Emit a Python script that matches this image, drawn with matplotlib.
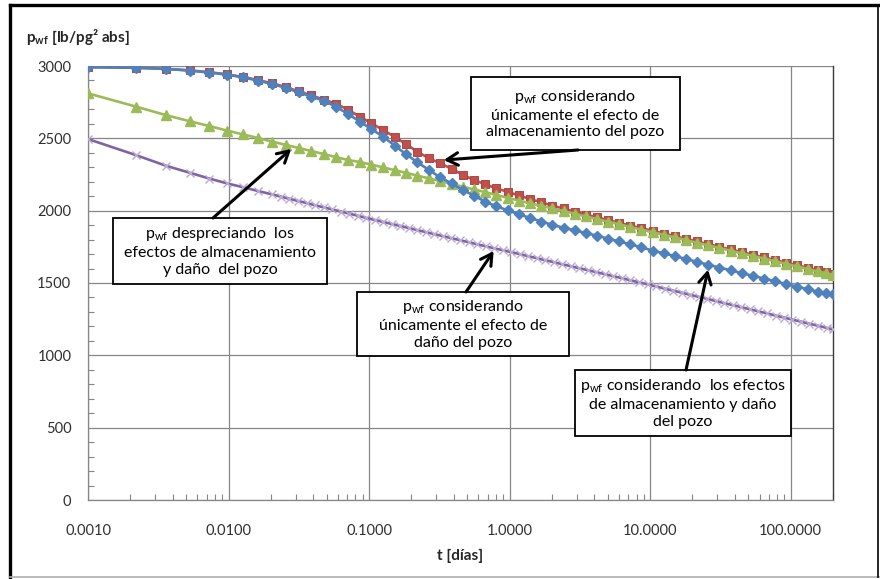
import matplotlib

matplotlib.use("Agg")

import matplotlib.pyplot as plt
from matplotlib.lines import Line2D
from matplotlib.patches import Rectangle
from matplotlib.ticker import FuncFormatter, LogLocator, MultipleLocator, NullFormatter

plt.rcParams["font.family"] = ["Lato", "DejaVu Sans"]
plt.rcParams["mathtext.fontset"] = "custom"
plt.rcParams["mathtext.rm"] = "Lato"
plt.rcParams["mathtext.it"] = "Lato:italic"
plt.rcParams["mathtext.bf"] = "Lato:bold"

# time steps shared by three of the series [days]
t_days = [0.001, 0.00218, 0.0036, 0.0053, 0.0073, 0.0098, 0.0127, 0.0162, 0.0205, 0.0255,
          0.0316, 0.0389, 0.0477, 0.0582, 0.0709, 0.0860, 0.104, 0.126, 0.152, 0.184,
          0.221, 0.267, 0.321, 0.386, 0.464, 0.558, 0.670, 0.806, 0.968, 1.16,
          1.40, 1.68, 2.01, 2.42, 2.90, 3.48, 4.18, 5.01, 6.02, 7.22,
          8.67, 10.4, 12.5, 15.0, 18.0, 21.6, 25.9, 31.1, 37.3, 44.7,
          53.7, 64.4, 77.3, 92.8, 111, 133, 157, 178, 200]

# storage + skin (blue diamonds)
p_storage_skin = [2992, 2988, 2980, 2968, 2955, 2940, 2921, 2899, 2875, 2849,
                  2818, 2788, 2760, 2718, 2668, 2615, 2564, 2511, 2450, 2389,
                  2334, 2281, 2230, 2189, 2143, 2104, 2062, 2030, 2003, 1975,
                  1950, 1925, 1902, 1882, 1864, 1846, 1827, 1807, 1787, 1767,
                  1747, 1724, 1705, 1686, 1666, 1646, 1626, 1607, 1588, 1569,
                  1550, 1531, 1512, 1493, 1475, 1456, 1440, 1430, 1422]

# storage only (red squares)
p_storage = [2992, 2988, 2980, 2970, 2957, 2942, 2924, 2903, 2880, 2855,
             2824, 2797, 2767, 2740, 2697, 2650, 2604, 2557, 2511, 2459,
             2407, 2362, 2327, 2290, 2248, 2212, 2182, 2154, 2130, 2106,
             2080, 2058, 2035, 2015, 1993, 1973, 1954, 1935, 1916, 1897,
             1879, 1861, 1842, 1824, 1805, 1787, 1769, 1750, 1732, 1714,
             1695, 1677, 1659, 1640, 1623, 1604, 1588, 1576, 1564]

# no storage, no skin (green triangles)
p_ideal = [2811, 2720, 2660, 2618, 2585, 2553, 2527, 2502, 2477, 2455,
           2433, 2412, 2391, 2370, 2350, 2336, 2318, 2299, 2280, 2261,
           2242, 2223, 2204, 2185, 2166, 2147, 2128, 2108, 2089, 2070,
           2051, 2033, 2015, 1997, 1979, 1960, 1942, 1924, 1906, 1887,
           1869, 1851, 1833, 1815, 1796, 1778, 1760, 1742, 1723, 1705,
           1687, 1669, 1651, 1632, 1615, 1596, 1580, 1568, 1556]

# skin only (purple crosses), denser time steps
t_skin = [0.001, 0.00218, 0.0036, 0.0053, 0.0073, 0.0098, 0.0127, 0.0162, 0.0205,
          0.0236, 0.0271, 0.0312, 0.0359, 0.0412, 0.0474, 0.0545, 0.0627, 0.0721, 0.0829,
          0.0954, 0.110, 0.126, 0.145, 0.167, 0.192, 0.220, 0.253, 0.291, 0.335,
          0.385, 0.443, 0.510, 0.586, 0.674, 0.775, 0.891, 1.02, 1.18, 1.36,
          1.56, 1.79, 2.06, 2.37, 2.72, 3.13, 3.60, 4.14, 4.76, 5.48,
          6.30, 7.24, 8.33, 9.58, 11.0, 12.7, 14.6, 16.8, 19.3, 22.2,
          25.5, 29.3, 33.7, 38.8, 44.6, 51.3, 59.0, 67.8, 78.0, 89.7,
          103, 119, 136, 157, 180, 200]
p_skin = [2495, 2385, 2310, 2262, 2222, 2188, 2162, 2136, 2112,
          2097, 2082, 2067, 2053, 2038, 2023, 2009, 1994, 1980, 1965,
          1950, 1936, 1922, 1908, 1894, 1880, 1866, 1852, 1838, 1824,
          1810, 1796, 1782, 1768, 1754, 1740, 1727, 1714, 1700, 1685,
          1672, 1658, 1644, 1630, 1616, 1602, 1589, 1575, 1561, 1547,
          1533, 1519, 1505, 1491, 1476, 1461, 1447, 1433, 1418, 1404,
          1390, 1376, 1361, 1347, 1333, 1318, 1304, 1290, 1275, 1261,
          1247, 1232, 1218, 1204, 1190, 1179]

x_ticks = [0.001, 0.01, 0.1, 1, 10, 100]
y_ticks = [0, 500, 1000, 1500, 2000, 2500, 3000]

PW = r"$\mathregular{p_{wf}}$"
notes = [
    # lines, box (x0, y0, x1, y1) in pixels, arrow tail in pixels, arrow tip in data
    ([PW + " considerando", "únicamente el efecto de", "almacenamiento del pozo"],
     (471, 77, 680, 150), (578, 150), (0.34, 2350)),
    ([PW + " despreciando  los", "efectos de almacenamiento", "y daño  del pozo"],
     (113, 218, 327, 284), (213, 218), (0.0279, 2426)),
    ([PW + " considerando", "únicamente el efecto de", "daño del pozo"],
     (357, 292, 569, 356), (466, 292), (0.77, 1721)),
    ([PW + " considerando  los efectos", "de almacenamiento y daño", "del pozo"],
     (575, 370, 791, 436), (686, 370), (25.8, 1592)),
]

W, H = 880, 579
AX_L, AX_R, AX_T, AX_B = 88, 833, 66, 500
GRID = "#868686"

fig = plt.figure(figsize=(W / 100, H / 100), dpi=100)
ax = fig.add_axes([AX_L / W, 1 - AX_B / H, (AX_R - AX_L) / W, (AX_B - AX_T) / H])


def axfrac(px, py):
    return (px - AX_L) / (AX_R - AX_L), (AX_B - py) / (AX_B - AX_T)


ax.plot(t_skin, p_skin, color="#8064A2", lw=1.9, marker="x", ms=5.5,
        mec="#B9A9D3", mew=1.0, zorder=3)
ax.plot(t_days, p_storage, color="#C0504D", lw=1.9, marker="s", ms=6.4,
        mec="#B0453F", mew=0.7, zorder=3)
ax.plot(t_days, p_ideal, color="#9BBB59", lw=1.9, marker="^", ms=7.2,
        mec="#9BBB59", zorder=3)
ax.plot(t_days, p_storage_skin, color="#4F81BD", lw=1.9, marker="D", ms=5.0,
        mec="#4F81BD", zorder=3)

ax.set_xscale("log")
ax.set_xlim(0.001, 200)
ax.set_ylim(0, 3000)
ax.set_xticks(x_ticks)
ax.xaxis.set_major_formatter(FuncFormatter(lambda v, _: f"{v:.4f}"))
ax.xaxis.set_minor_locator(LogLocator(base=10, subs=range(2, 10)))
ax.xaxis.set_minor_formatter(NullFormatter())
ax.set_yticks(y_ticks)
ax.yaxis.set_minor_locator(MultipleLocator(100))

ax.grid(True, which="major", color=GRID, lw=0.9, zorder=0)
ax.tick_params(which="major", length=0, labelsize=10.5, labelcolor="#303030")
ax.tick_params(axis="x", which="major", pad=17)
ax.tick_params(axis="y", which="major", pad=12)
ax.tick_params(which="minor", length=4, direction="in", color=GRID, width=0.8)
ax.spines["top"].set_visible(False)
for side in ("left", "bottom"):
    ax.spines[side].set_color(GRID)
    ax.spines[side].set_linewidth(0.9)
ax.spines["right"].set_color("#3a3a3a")
ax.spines["right"].set_linewidth(1.0)

for lines, box, tail, tip in notes:
    x0, y0 = axfrac(box[0], box[3])
    x1, y1 = axfrac(box[2], box[1])
    ax.add_patch(Rectangle((x0, y0), x1 - x0, y1 - y0, transform=ax.transAxes,
                           facecolor="white", edgecolor="black", lw=1.3,
                           zorder=5, clip_on=False))
    ax.text((x0 + x1) / 2, (y0 + y1) / 2, "\n".join(lines), transform=ax.transAxes,
            ha="center", va="center", fontsize=11.5, color="black",
            linespacing=1.25, zorder=6)
    ax.annotate("", xy=tip, xycoords="data", xytext=axfrac(*tail),
                textcoords="axes fraction",
                arrowprops=dict(arrowstyle="->,head_length=0.8,head_width=0.45",
                                color="black", lw=2.2, shrinkA=0, shrinkB=0),
                zorder=7)

fig.text(26 / W, 1 - 37 / H, r"$\mathbf{p_{wf}}$ [lb/pg² abs]", ha="left", va="center",
         fontsize=11, fontweight="bold", color="#262626")
fig.text(460 / W, 1 - 556 / H, "t [días]", ha="center", va="center",
         fontsize=11, fontweight="bold", color="#262626")

# outer frame of the chart object
fig.add_artist(Line2D([10 / W, 10 / W], [1 - 5 / H, 1 - 577 / H], color="black", lw=2.4))
fig.add_artist(Line2D([10 / W, 1], [1 - 5 / H, 1 - 5 / H], color="black", lw=2.4))
fig.add_artist(Line2D([10 / W, 1], [1 - 577 / H, 1 - 577 / H], color="#b0b0b0", lw=1.2))
fig.add_artist(Line2D([878 / W, 878 / W], [1 - 5 / H, 1 - 577 / H], color="black", lw=1.2))

fig.savefig("out.png", dpi=100, facecolor="white")
plt.close(fig)
